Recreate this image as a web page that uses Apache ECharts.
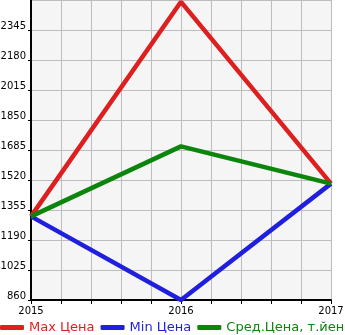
<!DOCTYPE html>
<html><head><meta charset="utf-8">
<script src="https://cdn.jsdelivr.net/npm/echarts@6/dist/echarts.min.js"></script>
<style>html,body{margin:0;padding:0;background:#fff}#c{width:345px;height:335px}</style>
</head><body><div id="c"></div>
<script>
const years = [2015, 2016, 2017];
const maxPrice = [1320, 2500, 1500];
const minPrice = [1320, 860, 1500];
const avgPrice = [1320, 1705, 1500];
const seriesNames = ['Max Цена', 'Min Цена', 'Сред.Цена, т.йен'];
const colors = ['#dd1f1f', '#1f1fdd', '#0c850c'];

const chart = echarts.init(document.getElementById('c'), null, {renderer: 'canvas'});
const pairs = arr => years.map((y, i) => [y, arr[i]]);
const mk = (name, arr, color) => ({
  name, type: 'line', data: pairs(arr), symbol: 'none',
  lineStyle: {color, width: 4.5}, itemStyle: {color}, animation: false
});
chart.setOption({
  animation: false,
  textStyle: {fontFamily: 'DejaVu Sans'},
  grid: {left: 31, right: 14, top: 0, bottom: 35, show: true, backgroundColor: '#f5f5f5', borderWidth: 0,
    containLabel: false, outerBoundsMode: 'none'},
  xAxis: {
    type: 'value', min: 2015, max: 2017, interval: 0.2,
    axisLine: {lineStyle: {color: '#000', width: 2}},
    axisTick: {show: true, length: 4, lineStyle: {color: '#000'}},
    splitLine: {show: true, lineStyle: {color: '#bdbdbd', width: 1}},
    axisLabel: {color: '#000', fontSize: 10, margin: 6,
      formatter: v => Math.abs(v - Math.round(v)) < 1e-6 ? String(Math.round(v)) : ''}
  },
  yAxis: {
    type: 'value', min: 860, max: 2510, interval: 165,
    axisLine: {show: true, lineStyle: {color: '#000', width: 2}},
    axisTick: {show: true, length: 3, lineStyle: {color: '#000'}},
    splitLine: {show: true, lineStyle: {color: '#bdbdbd', width: 1}},
    axisLabel: {color: '#000', fontSize: 10, margin: 5, showMaxLabel: false, verticalAlign: 'bottom', lineHeight: 7,
      formatter: v => String(Math.round(v))}
  },
  legend: {
    bottom: 0, left: 0, width: 420, itemGap: 6, itemWidth: 24, itemHeight: 5, icon: 'roundRect',
    padding: [0, 0, 1, 0],
    textStyle: {fontSize: 13},
    data: seriesNames.map((n, i) => ({name: n, textStyle: {color: colors[i]}}))
  },
  series: [
    mk(seriesNames[0], maxPrice, colors[0]),
    mk(seriesNames[1], minPrice, colors[1]),
    mk(seriesNames[2], avgPrice, colors[2])
  ]
});
</script></body></html>
